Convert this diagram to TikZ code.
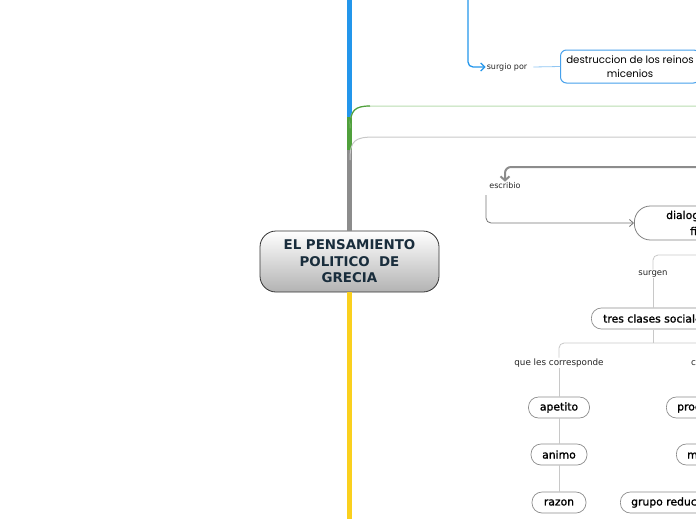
\documentclass[tikz,border=0pt]{standalone}
\usepackage{fontspec}
\setmainfont{DejaVu Sans}
\newfontfamily\popfont{Poppins}
\newfontfamily\nodefont[FakeBold=1.2]{DejaVu Sans}
\usetikzlibrary{arrows.meta}
\definecolor{tblue}{RGB}{35,150,235}
\definecolor{tgreen}{RGB}{80,160,60}
\definecolor{lgreen}{RGB}{185,220,175}
\definecolor{tgray}{RGB}{140,140,140}
\definecolor{lgray}{RGB}{200,200,200}
\definecolor{tyellow}{RGB}{250,208,30}
\definecolor{navy}{RGB}{25,45,60}
\definecolor{bbox}{RGB}{70,160,235}
\tikzset{
  pill/.style={draw=black!45, line width=0.7pt, fill=white, rounded corners=10pt, minimum height=21pt, inner xsep=8pt, font=\nodefont\fontsize{10.8}{12}\selectfont},
  ntext/.style={font=\nodefont\fontsize{10.8}{12}\selectfont, anchor=west, inner sep=0pt},
  lbl/.style={font=\fontsize{8}{10}\selectfont, inner sep=1pt, text=black!85},
  thin/.style={draw=lgray, line width=0.8pt},
  trunk/.style={line width=5pt},
}
\begin{document}
\begin{tikzpicture}[x=1pt,y=-1pt]
\useasboundingbox (0,0) rectangle (696,520);
\clip (0,0) rectangle (696,520);

% central node
\node[draw=black!80, line width=0.8pt, rounded corners=16pt, top color=white, bottom color=black!30,
      minimum width=179pt, minimum height=61pt, align=center, text=navy,
      font=\bfseries\fontsize{13.4}{16.5}\selectfont] (root) at (349.5,261.5)
      {EL PENSAMIENTO\\POLITICO~~DE\\GRECIA};

% trunk
\coordinate (ttop) at (349,0);
\coordinate (tb) at (349,117);
\coordinate (tg) at (349,150);
\coordinate (tbot) at (349,519);
\draw[trunk, tblue] (ttop) -- (tb);
\draw[trunk, tgreen] (tb) -- (tg);
\draw[trunk, tgray] (tg) -- (root.north -| tg);
\draw[trunk, tyellow] (root.south -| tg) -- (tbot);

% green and gray branches
\coordinate (g1) at (350,128);
\coordinate (g2) at (696,106);
\draw[lgreen, line width=1pt] (g1) .. controls (350,108) and (355,106) .. (375,106) -- (g2);
\draw[tgreen, line width=1.2pt] (g1) .. controls (350,110) and (355,106) .. (370,106);
\coordinate (h1) at (350,160);
\coordinate (h2) at (696,137);
\draw[lgray, line width=1pt] (h1) .. controls (350,140) and (355,137) .. (375,137) -- (h2);

% blue connector
\coordinate (b0) at (468,0);
\node[lbl] (surgio) at (507,67) {surgio por};
\node[draw=bbox, line width=1pt, rounded corners=6pt, fill=white, minimum width=139pt, minimum height=33pt,
      align=center, font=\popfont\fontsize{10.2}{13.5}\selectfont, anchor=west] (destr) at (560,66.5)
      {destruccion de los reinos\\micenios};
\draw[tblue, line width=1.3pt, rounded corners=5pt, -{Straight Barb[length=4pt,width=8pt]}] (b0) |- (surgio.west);
\draw[bbox!60, line width=0.8pt] (surgio.east) ++(5,0) -- (destr.west);

% escribio
\coordinate (e0) at (696,167);
\node[lbl] (escr) at (505,186) {escribio};
\node[draw=black!50, line width=0.8pt, rounded corners=16pt, fill=white, minimum width=140pt, minimum height=34pt, anchor=west] (dlg) at (634,223) {};
\node[ntext] at (666,216) {dialogo};
\node[ntext] at (690,231) {fi};
\draw[tgray, line width=2pt, rounded corners=6pt, -{Straight Barb[length=4pt,width=9pt]}] (e0) -| (escr.north);
\draw[black!55, line width=0.8pt, rounded corners=5pt, -{Straight Barb[length=4pt,width=7pt]}] (486,195) |- (dlg.west);

% surgen
\node[lbl, font=\fontsize{8.5}{10}\selectfont] (surgen) at (653,274) {surgen};
\coordinate (s0) at (696,255);
\draw[thin, rounded corners=5pt] (s0) -| (surgen.north);
\node[pill, anchor=west, minimum width=130pt] (tres) at (591,318.5) {};
\node[ntext] at (603,318.5) {tres clases sociales};
\draw[thin] (surgen.south) -- (surgen.south |- tres.north);
\coordinate (j) at (653,343);
\coordinate (jr) at (696,343);
\draw[thin] (653,329.5) -- (j);
\node[lbl, font=\fontsize{8.8}{10}\selectfont] (qlc) at (559,363) {que les corresponde};
\draw[thin, rounded corners=5pt] (jr) -| (qlc.north);
\node[lbl, font=\fontsize{8.8}{10}\selectfont, anchor=west] (qlc2) at (690,363) {c};

% left column
\node[pill, minimum width=61pt] (apetito) at (559,407.5) {apetito};
\node[pill, minimum width=56pt] (animo) at (559,454.5) {animo};
\node[pill, minimum width=54pt] (razon) at (559,502.5) {razon};
\draw[thin] (qlc.south) -- (apetito.north);
\draw[thin] (apetito.south) -- (animo.north);
\draw[thin] (animo.south) -- (razon.north);

% right column (clipped)
\node[pill, anchor=west, minimum width=80pt] (pro) at (666,407.5) {};
\node[ntext] at (677,407.5) {prod};
\node[pill, anchor=west, minimum width=60pt] (mil) at (676,454.5) {};
\node[ntext] at (687,454.5) {mi};
\node[pill, anchor=west, minimum width=110pt] (grupo) at (620,502.5) {};
\node[ntext] at (631,502.5) {grupo reduci};
\end{tikzpicture}
\end{document}
